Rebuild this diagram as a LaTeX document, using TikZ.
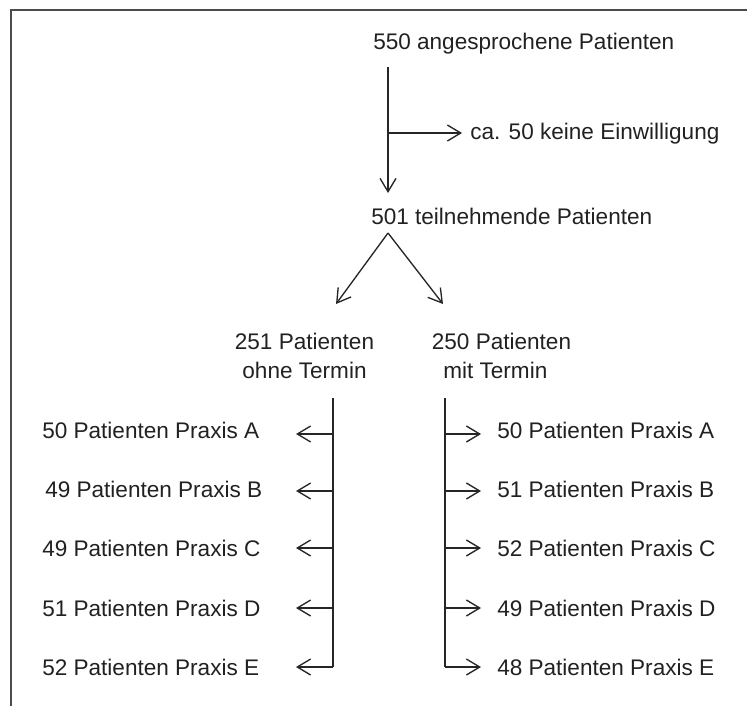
\documentclass[tikz,border=0pt]{standalone}
\usepackage{fontspec}
\setmainfont{Liberation Sans}
\usetikzlibrary{arrows.meta}
\begin{document}
\begin{tikzpicture}[x=0.75pt,y=-0.75pt,
  lbl/.style={inner sep=0pt, text=black!87, font=\fontsize{16.92pt}{21.75pt}\selectfont},
  conn/.style={line width=1pt, draw=black!85},
  arr/.style={conn, -{Straight Barb[length=10pt,width=12pt,line width=1pt]}},
  frame/.style={line width=1.6pt, draw=black!70}]
\useasboundingbox (0,0) rectangle (747,706);
\draw[frame] (11,706) -- (11,10) -- (747,10);
% main texts
\node[lbl, anchor=base west] (top) at (373,49.5) {550 angesprochene Patienten};
\node[lbl, anchor=base west] (refuse) at (470,140) {ca. 50 keine Einwilligung};
\node[lbl, anchor=base west] (part) at (371,225) {501 teilnehmende Patienten};
\node[lbl, anchor=north, align=center] (ohne) at (304.5,333) {251 Patienten\\ohne Termin};
\node[lbl, anchor=north, align=center] (mit) at (501.5,333) {250 Patienten\\mit Termin\hspace*{0.55em}};
% top flow
\coordinate (vtop) at (388,67);
\coordinate (vbot) at (388,193);
\coordinate (vbr) at (388,133);
\coordinate (vbrtip) at (462,133);
\draw[arr] (vtop) -- (vbot);
\draw[arr] (vbr) -- (vbrtip);
% split
\coordinate (apex) at (388,233);
\coordinate (ltip) at (336,304);
\coordinate (rtip) at (443,304);
\draw[arr] (apex) -- (ltip);
\draw[arr] (apex) -- (rtip);
% left column
\coordinate (ltop) at (333,398);
\coordinate (lbot) at (333,667);
\draw[conn] (ltop) -- (lbot);
\coordinate (rtop) at (445,398);
\coordinate (rbot) at (445,667);
\draw[conn] (rtop) -- (rbot);
\foreach \n/\ya/\yb/\xl/\ltext/\rtext in {
  a/434/438/42/{50 Patienten Praxis A}/{50 Patienten Praxis A},
  b/491/497/45/{49 Patienten Praxis B}/{51 Patienten Praxis B},
  c/548/556/42/{49 Patienten Praxis C}/{52 Patienten Praxis C},
  d/608/616/42/{51 Patienten Praxis D}/{49 Patienten Praxis D},
  e/667/675/42/{52 Patienten Praxis E}/{48 Patienten Praxis E}} {
  \node[lbl, anchor=base west] (l\n) at (\xl,\yb) {\ltext};
  \node[lbl, anchor=base west] (r\n) at (497,\yb) {\rtext};
  \coordinate (lj\n) at (333,\ya);
  \coordinate (lt\n) at (296,\ya);
  \coordinate (rj\n) at (445,\ya);
  \coordinate (rt\n) at (481,\ya);
  \draw[arr] (lj\n) -- (lt\n);
  \draw[arr] (rj\n) -- (rt\n);
}
\end{tikzpicture}
\end{document}
